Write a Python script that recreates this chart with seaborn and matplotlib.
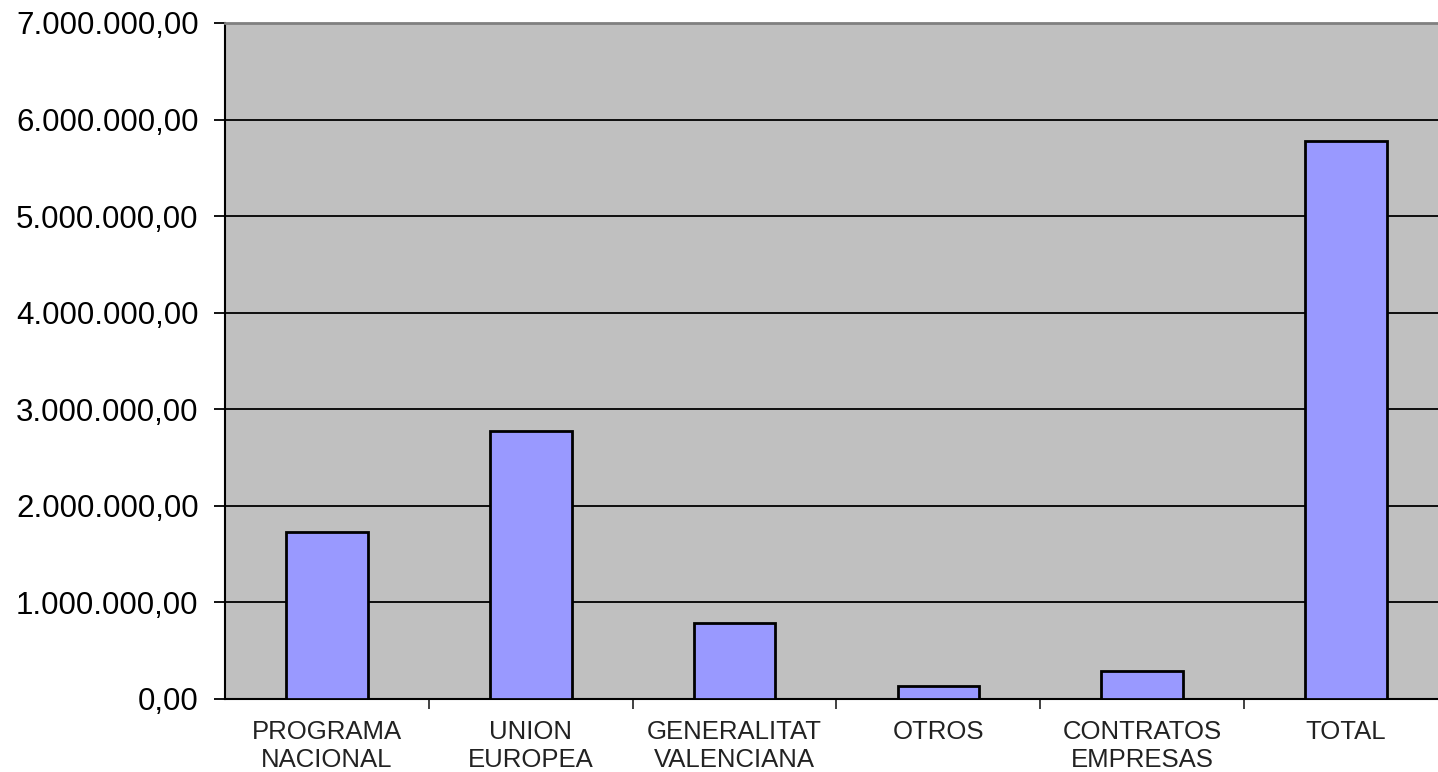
import matplotlib
matplotlib.use("Agg")
import matplotlib.pyplot as plt
from matplotlib.ticker import FuncFormatter, FixedLocator
import seaborn as sns
import pandas as pd

# Values (euros)
categories = ["PROGRAMA\nNACIONAL", "UNION\nEUROPEA", "GENERALITAT\nVALENCIANA",
              "OTROS", "CONTRATOS\nEMPRESAS", "TOTAL"]
importes = [1728000, 2780000, 786000, 130000, 289000, 5780000]

df = pd.DataFrame({"categoria": categories, "importe": importes})

sns.set_theme(style="white")
plt.rcParams['font.family'] = ['Liberation Sans', 'DejaVu Sans']

fig = plt.figure(figsize=(14.38, 7.72), dpi=100)
# plot area runs a little past the right edge of the image, as in the original
ax = fig.add_axes([225 / 1438, 73 / 772, (1448 - 225) / 1438, (699 - 23) / 772])
ax.set_facecolor("#C0C0C0")

sns.barplot(data=df, x="categoria", y="importe", color="#9999FF",
            edgecolor="black", linewidth=2.0, width=0.4, saturation=1, ax=ax, zorder=3)

ax.set_ylim(0, 7000000)
ax.set_xlim(-0.5, len(categories) - 0.5)
ax.set_yticks(range(0, 7000001, 1000000))
ax.yaxis.grid(True, color="black", linewidth=1.3, zorder=1)
ax.set_axisbelow(True)

def fmt_es(v, pos):
    s = f"{v:,.2f}"
    return s.replace(",", "X").replace(".", ",").replace("X", ".")

ax.yaxis.set_major_formatter(FuncFormatter(fmt_es))
ax.tick_params(axis="y", labelsize=22.5, length=8, width=1.3, color="black",
               pad=11, direction="out", left=True, labelcolor="black")
ax.tick_params(axis="x", labelsize=18.5, length=0, pad=15, labelcolor="#222222")
ax.xaxis.set_minor_locator(FixedLocator([i + 0.5 for i in range(len(categories) - 1)]))
ax.tick_params(axis="x", which="minor", length=7, width=1.3, color="#333333",
               direction="out", bottom=True)
for lbl in ax.get_xticklabels():
    lbl.set_linespacing(1.22)

ax.set_xlabel("")
ax.set_ylabel("")

for side in ["left", "bottom"]:
    ax.spines[side].set_color("black")
    ax.spines[side].set_linewidth(1.5)
ax.spines["top"].set_color("#808080")
ax.spines["top"].set_linewidth(2)
ax.spines["right"].set_visible(False)

fig.savefig("out.png", dpi=100)
